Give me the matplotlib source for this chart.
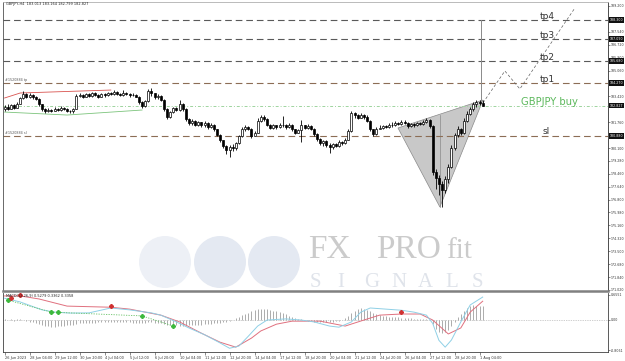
import matplotlib.pyplot as plt
from matplotlib.patches import Circle, Polygon
from matplotlib.transforms import blended_transform_factory

W, H = 625, 361

# ---- H4 bars GBPJPY, 26 Jun 20:00 .. 1 Aug 08:00 ----
first_open = 182.60
closes = [182.75, 182.62, 182.85, 182.70, 182.95, 183.30, 183.55, 183.40, 183.50, 183.35,
          183.25, 182.90, 182.60, 182.45, 182.55, 182.48, 182.62, 182.55, 182.70, 182.60,
          182.50, 182.45, 182.62, 183.45, 183.50, 183.38, 183.55, 183.45, 183.60, 183.52,
          183.40, 183.55, 183.48, 183.62, 183.55, 183.70, 183.58, 183.50, 183.65, 183.55,
          183.48, 183.52, 183.40, 183.05, 182.80, 183.10, 183.75, 183.60, 183.35, 183.45,
          183.20, 182.60, 182.10, 182.40, 182.65, 182.55, 182.95, 182.60, 181.95, 181.70,
          181.85, 181.60, 181.75, 181.55, 181.70, 181.45, 181.60, 181.30, 180.95, 180.60,
          180.25, 179.95, 180.20, 180.10, 180.40, 180.85, 181.30, 181.45, 181.35, 180.90,
          181.10, 181.85, 182.10, 181.95, 181.60, 181.40, 181.55, 181.45, 181.60, 181.55,
          181.45, 181.60, 181.30, 181.10, 181.25, 181.55, 181.40, 181.50, 181.35, 181.00,
          180.70, 180.40, 180.55, 180.30, 180.15, 180.35, 180.25, 180.50, 180.40, 180.65,
          181.20, 182.35, 182.20, 182.05, 182.25, 182.10, 181.85, 181.30, 181.00, 181.35,
          181.40, 181.50, 181.45, 181.60, 181.55, 181.70, 181.65, 181.80, 181.72, 181.50,
          181.62, 181.55, 181.70, 181.65, 181.80, 181.90, 181.50, 178.60, 178.20, 177.80,
          177.40, 178.10, 178.90, 180.10, 180.95, 181.30, 181.10, 181.85, 182.30, 182.60,
          182.90, 183.05, 183.013, 182.827]
highs = [182.85, 182.90, 182.95, 182.92, 183.05, 183.40, 183.75, 183.62, 183.60, 183.55,
         183.45, 183.30, 182.95, 182.70, 182.68, 182.62, 182.72, 182.70, 182.78, 182.75,
         182.68, 182.55, 182.70, 183.55, 183.62, 183.58, 183.65, 183.60, 183.70, 183.68,
         183.58, 183.62, 183.60, 183.72, 183.70, 183.82, 183.75, 183.65, 183.80, 183.70,
         183.62, 183.60, 183.58, 183.45, 183.10, 183.20, 183.90, 183.95, 183.65, 183.55,
         183.50, 183.25, 182.65, 182.50, 182.72, 182.75, 183.18, 183.00, 182.65, 182.00,
         181.95, 181.90, 181.85, 181.80, 181.82, 181.75, 181.72, 181.65, 181.35, 181.00,
         180.65, 180.30, 180.30, 180.35, 180.50, 180.95, 181.45, 181.55, 181.50, 181.40,
         181.20, 182.00, 182.25, 182.20, 182.00, 181.65, 181.62, 181.60, 181.70, 182.15,
         181.62, 181.70, 181.62, 181.35, 181.35, 181.90, 181.60, 181.62, 181.55, 181.40,
         181.05, 180.75, 180.65, 180.60, 180.40, 180.45, 180.45, 180.60, 180.58, 180.75,
         181.30, 182.45, 182.42, 182.30, 182.35, 182.30, 182.20, 181.90, 181.35, 181.45,
         181.55, 181.60, 181.58, 181.70, 181.78, 181.85, 181.80, 181.92, 181.90, 181.78,
         181.72, 181.68, 181.80, 181.78, 181.90, 182.00, 181.95, 181.55, 178.75, 178.40,
         178.00, 178.30, 179.10, 180.30, 181.10, 181.50, 181.40, 182.00, 182.45, 182.75,
         183.05, 183.20, 183.18, 183.164]
lows = [182.50, 182.55, 182.58, 182.60, 182.65, 182.90, 183.25, 183.30, 183.30, 183.25,
        183.15, 182.80, 182.50, 182.38, 182.40, 182.40, 182.45, 182.48, 182.50, 182.52,
        182.42, 182.38, 182.36, 182.60, 183.35, 183.30, 183.35, 183.38, 183.40, 183.45,
        183.32, 183.36, 183.40, 183.44, 183.48, 183.50, 183.50, 183.42, 183.45, 183.48,
        183.40, 183.42, 183.35, 182.95, 182.70, 182.72, 183.05, 183.45, 183.25, 183.22,
        183.10, 182.50, 181.95, 182.00, 182.35, 182.45, 182.50, 182.50, 181.85, 181.55,
        181.60, 181.50, 181.52, 181.45, 181.48, 181.35, 181.40, 181.20, 180.85, 180.50,
        180.10, 179.70, 179.55, 179.90, 180.00, 180.35, 180.80, 181.20, 181.25, 180.75,
        180.85, 181.05, 181.80, 181.85, 181.50, 181.30, 181.32, 181.35, 181.40, 181.45,
        181.35, 181.40, 181.20, 181.00, 181.05, 180.50, 181.30, 181.30, 181.25, 180.85,
        180.55, 180.30, 180.25, 180.20, 179.80, 180.05, 180.15, 180.20, 180.30, 180.35,
        180.60, 181.15, 182.05, 181.95, 182.00, 181.98, 181.75, 181.20, 180.85, 180.95,
        181.30, 181.35, 181.38, 181.40, 181.45, 181.50, 181.55, 181.60, 181.62, 181.40,
        181.45, 181.45, 181.50, 181.55, 181.60, 181.70, 181.40, 178.40, 177.50, 177.10,
        176.35, 177.20, 177.90, 178.80, 179.95, 180.80, 180.95, 181.00, 181.80, 182.20,
        182.50, 182.75, 182.85, 182.799]
opens = [first_open] + closes[:-1]

# price scale labels and trade levels
price_ticks = [189.200, 187.540, 186.720, 185.900, 185.060, 183.420, 181.760, 180.100,
               179.280, 178.460, 177.640, 176.800, 175.980, 175.160, 174.320, 173.500,
               172.680, 171.840, 171.020]
level_names = ['tp4', 'tp3', 'tp2', 'tp1', 'sl']
level_prices = [188.30, 187.09, 185.68, 184.27, 180.88]
buy_price = 182.827

# time axis
time_bars = [0, 8, 16, 24, 32, 40, 48, 56, 64, 72, 80, 88, 96, 104, 112, 120, 128, 136, 144, 152]
time_labels = ['26 Jun 2023', '28 Jun 04:00', '29 Jun 12:00', '30 Jun 20:00', '4 Jul 04:00',
               '5 Jul 12:00', '6 Jul 20:00', '10 Jul 04:00', '11 Jul 12:00', '12 Jul 20:00',
               '14 Jul 04:00', '17 Jul 12:00', '18 Jul 20:00', '20 Jul 04:00', '21 Jul 12:00',
               '24 Jul 20:00', '26 Jul 04:00', '27 Jul 12:00', '28 Jul 20:00', '1 Aug 04:00']

# drawn objects on the price chart (bar index, price)
red_trade_bars = [0, 5, 34]
red_trade_prices = [183.31, 183.63, 183.82]
green_trade_bars = [0, 20, 44]
green_trade_prices = [182.41, 182.22, 182.54]
triangle_bars = [125.9, 153.1, 139.3]
triangle_prices = [181.39, 183.18, 176.33]
path_bars = [153.1, 160.1, 164.9, 182.5]
path_prices = [183.00, 185.04, 183.89, 189.07]

# oscillator sub-window
hist = [0.02, -0.02, 0.03, -0.03, 0.02, 0.03, -0.02, -0.04, -0.05, -0.06,
        -0.08, -0.11, -0.14, -0.16, -0.18, -0.19, -0.19, -0.18, -0.17, -0.16, -0.15, -0.14, -0.13,
        -0.11, -0.10, -0.10, -0.09, -0.09, -0.08, -0.08, -0.07, -0.07, -0.06, -0.06, -0.05, -0.05,
        -0.05, -0.06, -0.06, -0.07, -0.07, -0.08, -0.08, -0.09, -0.09, -0.08, -0.07, -0.07, -0.08, -0.09, -0.10,
        -0.11, -0.13, -0.14, -0.15, -0.15, -0.16, -0.16, -0.15, -0.15, -0.14, -0.14, -0.13, -0.13,
        -0.12, -0.12, -0.11, -0.10, -0.09, -0.08, -0.07, -0.05, -0.03,
        0.00, 0.04, 0.08, 0.12,
        0.16, 0.19, 0.22, 0.25, 0.27, 0.28, 0.29, 0.28, 0.26, 0.24, 0.22, 0.20,
        0.17, 0.14, 0.11, 0.08, 0.05, 0.03, 0.01,
        -0.02, -0.03, -0.04, -0.05, -0.05, -0.06, -0.06, -0.06, -0.06, -0.05, -0.04, -0.03, -0.01,
        0.04, 0.10, 0.17, 0.23, 0.28, 0.30, 0.29, 0.26, 0.22, 0.18,
        0.14, 0.12, 0.10, 0.09, 0.08, 0.07, 0.06, 0.06, 0.05, 0.05, 0.04, 0.04, 0.03, 0.03, 0.02, 0.02, 0.01,
        -0.02, -0.12, -0.24, -0.33, -0.36, -0.34, -0.28, -0.18,
        -0.06, 0.06, 0.16, 0.24, 0.30, 0.35, 0.38, 0.37, 0.36, 0.36]
main_bars = [0, 5, 12, 16, 21, 27, 34, 40, 47, 50, 55, 59, 64, 69, 72, 75, 78, 81, 84, 90,
             95, 99, 104, 107, 111, 114, 117, 122, 127, 131, 135, 137, 139, 141, 143, 146, 149, 153]
main_vals = [0.57, 0.47, 0.26, 0.20, 0.175, 0.18, 0.31, 0.26, 0.18, 0.12, -0.06, -0.22, -0.40,
             -0.62, -0.76, -0.70, -0.44, -0.17, -0.01, 0.02, -0.01, -0.06, -0.17, -0.20, -0.06,
             0.20, 0.31, 0.28, 0.25, 0.20, 0.12, -0.10, -0.55, -0.73, -0.54, -0.06, 0.39, 0.60]
signal_bars = [0, 5, 11, 20, 34, 40, 50, 56, 63, 69, 74, 79, 82, 87, 92, 101, 109, 115, 120,
               127, 133, 137, 142, 146, 149, 153]
signal_vals = [0.63, 0.63, 0.55, 0.36, 0.33, 0.28, 0.12, -0.06, -0.36, -0.60, -0.73, -0.49,
               -0.30, -0.12, -0.04, -0.04, -0.17, -0.01, 0.12, 0.15, 0.15, -0.01, -0.38, -0.22,
               0.20, 0.49]
cross_bars = [1, 15, 44, 54]
cross_vals = [0.52, 0.20, 0.10, -0.17]
buy_mark_bars = [1, 15, 17, 44, 54]
buy_mark_vals = [0.52, 0.20, 0.20, 0.10, -0.17]
sell_mark_bars = [2, 5, 34, 127]
sell_mark_vals = [0.57, 0.65, 0.36, 0.20]


def px_rect(l, t, r, b):
    return [l / W, 1 - b / H, (r - l) / W, (b - t) / H]


fig = plt.figure(figsize=(6.25, 3.61), dpi=100, facecolor='white')

# watermark layer (pixel coordinates)
wm = fig.add_axes([0, 0, 1, 1], zorder=0)
wm.set_xlim(0, W)
wm.set_ylim(H, 0)
wm.axis('off')
for cx, col in zip([165, 220, 274], ['#edf0f6', '#e4e9f2', '#e4e9f2']):
    wm.add_patch(Circle((cx, 262), 26, color=col, lw=0))
wm.text(308, 258, 'FX', fontsize=24, family='Liberation Serif', color='#cbcbcb', va='baseline')
wm.text(376, 258, 'PRO', fontsize=24, family='Liberation Serif', color='#cbcbcb', va='baseline')
wm.text(446, 258, 'fit', fontsize=21, family='Liberation Serif', color='#cbcbcb', va='baseline')
for k, ch in enumerate('SIGNALS'):
    wm.text(310 + k * 27, 287, ch, fontsize=15, family='Liberation Serif', color='#dfe3ea',
            va='baseline')

ax = fig.add_axes(px_rect(3, 2, 608, 291), zorder=1)
sub = fig.add_axes(px_rect(3, 293, 608, 352), zorder=1)
for a in (ax, sub):
    a.patch.set_alpha(0)
    a.set_xlim(-0.5, -0.5 + 605 / 3.125)

ax.set_ylim(170.954, 189.456)

# trade objects under the candles
ax.add_patch(Polygon(list(zip(triangle_bars, triangle_prices)), closed=True,
                     fc='#c8c8c8', ec='#8a8a8a', lw=0.5, zorder=1))
ax.plot([triangle_bars[2]] * 2, [176.33, 182.2], color='#8a8a8a', lw=0.5, zorder=1)
ax.plot(red_trade_bars, red_trade_prices, color='#d9534f', lw=0.6, zorder=2)
ax.plot(green_trade_bars, green_trade_prices, color='#7cc47c', lw=0.6, zorder=2)

for name, p in zip(level_names, level_prices):
    col = '#8c6d55' if name in ('tp1', 'sl') else '#5a5a5a'
    ax.axhline(p, color=col, lw=0.8, ls=(0, (6, 3.5)), zorder=2)
ax.axhline(buy_price, color='#9fd49f', lw=0.7, ls=(0, (3, 2, 1, 2)), zorder=2)
ax.plot([152.3, 152.3], [183.1, level_prices[0]], color='#8a8a8a', lw=0.7, zorder=2)
ax.plot(path_bars, path_prices, color='#606060', lw=0.5, ls=(0, (4, 3)), zorder=2)

# candles
xs = list(range(len(closes)))
ax.vlines(xs, lows, highs, color='black', lw=0.6, zorder=3)
body_low = [min(o, c) for o, c in zip(opens, closes)]
body_h = [max(abs(c - o), 0.02) for o, c in zip(opens, closes)]
body_fc = ['white' if c >= o else 'black' for o, c in zip(opens, closes)]
ax.bar(xs, body_h, bottom=body_low, width=0.62, color=body_fc, edgecolor='black',
       lw=0.5, zorder=4)

# level texts
for name, p in zip(level_names, level_prices):
    xpos = 172.3 if name == 'sl' else 171.3
    ax.text(xpos, p + (0.3 if name == 'sl' else 0.2), name, fontsize=6.5, color='#333333',
            va='center', ha='left', zorder=5)
ax.text(165.3, buy_price + 0.22, 'GBPJPY buy', fontsize=7.2, color='#5cb85c', va='center',
        ha='left', zorder=5)
ax.text(0.0, 184.36, '#1520884 tp', fontsize=2.4, color='#555555', va='bottom', zorder=5)
ax.text(0.0, 180.97, '#1520884 sl', fontsize=2.4, color='#555555', va='bottom', zorder=5)
ax.text(0.3, 189.30, 'GBPJPY,H4  183.013 183.164 182.799 182.827', fontsize=2.5,
        color='#222222', va='center', zorder=5)

# price scale
ax.yaxis.tick_right()
ax.set_yticks(price_ticks)
ax.set_yticklabels([f'{t:.3f}' for t in price_ticks])
ax.tick_params(axis='y', labelsize=2.3, length=1.5, width=0.4, pad=0.5, colors='#333333')
ax.set_xticks([])
tr = blended_transform_factory(ax.transAxes, ax.transData)
for p in level_prices + [buy_price]:
    ax.text(1.003, p, f'{p:.3f}', transform=tr, fontsize=2.3, color='white', va='center',
            ha='left', bbox=dict(boxstyle='square,pad=0.25', fc='#111111', ec='none'),
            clip_on=False, zorder=6)

for s in ax.spines.values():
    s.set_linewidth(0.6)
ax.spines['left'].set_color('#505050')
ax.spines['top'].set_color('#b0b0b0')
ax.spines['right'].set_color('#303030')
ax.spines['bottom'].set_color('#808080')
ax.spines['bottom'].set_linewidth(1.8)

# oscillator window
sub.set_ylim(-0.859, 0.708)
sub.axhline(0, color='#a0a0a0', lw=0.5, ls=(0, (1, 1.5)))
sub.vlines(xs, 0, hist, color='#8c8c8c', lw=0.5)
sub.plot(signal_bars, signal_vals, color='#e0707e', lw=0.7)
sub.plot(main_bars, main_vals, color='#8fd0e6', lw=0.7)
sub.plot(cross_bars, cross_vals, color='#66c266', lw=0.6, ls=(0, (1.5, 1.5)))
sub.plot(buy_mark_bars, buy_mark_vals, ls='none', marker='P', ms=2.6, color='#3cb83c')
sub.plot(sell_mark_bars, sell_mark_vals, ls='none', marker='P', ms=2.6, color='#d03030')
sub.text(0.3, 0.62, 'MACD(12,26,9) 0.5279 0.3362 0.3358', fontsize=2.5, color='#222222',
         va='center')

sub.yaxis.tick_right()
sub.set_yticks([0.6551, 0.0, -0.8061])
sub.set_yticklabels(['0.6551', '0.00', '-0.8061'])
sub.tick_params(axis='y', labelsize=2.3, length=1.5, width=0.4, pad=0.5, colors='#333333')
sub.set_xticks(time_bars)
sub.set_xticklabels(time_labels, ha='left')
sub.tick_params(axis='x', labelsize=2.5, length=2, width=0.4, pad=1, colors='#333333')
for s in sub.spines.values():
    s.set_linewidth(0.6)
    s.set_color('#404040')
sub.spines['top'].set_visible(False)

fig.savefig('out.png', dpi=100, facecolor='white')
